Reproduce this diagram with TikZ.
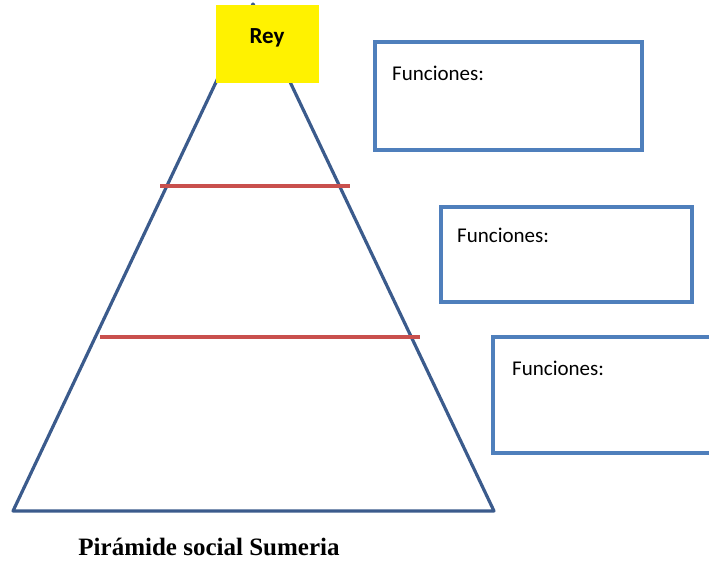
\documentclass[tikz,border=0pt]{standalone}
\usepackage{fontspec}
\setmainfont{Liberation Serif}
\newfontfamily\calib{Carlito}
\usetikzlibrary{calc}
\definecolor{tribl}{HTML}{3B5B8C}
\definecolor{boxbl}{HTML}{4F7FBC}
\definecolor{redl}{HTML}{C9504D}
\tikzset{
  tri/.style={draw=tribl, line width=3.2pt, line join=round},
  divline/.style={draw=redl, line width=3.5pt},
  fbox/.style={draw=boxbl, line width=3.5pt, fill=white, anchor=north west, inner sep=0pt},
  ftext/.style={anchor=west, font=\calib\fontsize{21}{23}\selectfont, inner sep=0pt},
  reybox/.style={fill=yellow, anchor=north west, minimum width=103pt, minimum height=78pt, inner sep=0pt},
}
\begin{document}
\begin{tikzpicture}[x=1pt, y=-1pt]
\useasboundingbox (0,0) rectangle (709,565);
% pyramid
\coordinate (apex) at (253,4);
\coordinate (bl) at (13,511);
\coordinate (br) at (494,511);
\draw[tri] (apex) -- (bl) -- (br) -- cycle;
% dividing lines
\coordinate (r1a) at (160,186);
\coordinate (r1b) at (350,186);
\coordinate (r2a) at (100,337);
\coordinate (r2b) at (420,337);
\draw[divline] (r1a) -- (r1b);
\draw[divline] (r2a) -- (r2b);
% Rey
\node[reybox] (rey) at (216,5) {};
\node[font=\calib\bfseries\fontsize{23}{25}\selectfont, inner sep=0pt] (reyt) at (267,38) {Rey};
% function boxes
\node[fbox, minimum width=267pt, minimum height=108pt] (f1) at (373,40) {};
\node[ftext] (f1t) at ($(f1.north west)+(19,33)$) {Funciones:};
\node[fbox, minimum width=251pt, minimum height=95pt] (f2) at (439,205) {};
\node[ftext] (f2t) at ($(f2.north west)+(18,30)$) {Funciones:};
\coordinate (f3tr) at (712,337);
\coordinate (f3tl) at (493,337);
\coordinate (f3bl) at (493,453);
\coordinate (f3br) at (712,453);
\fill[white] (f3tl) rectangle (f3br);
\draw[draw=boxbl, line width=3.5pt] (f3tr) -- (f3tl) -- (f3bl) -- (f3br);
\node[ftext] (f3t) at ($(f3tl)+(19,31)$) {Funciones:};
% caption
\node[font=\bfseries\fontsize{25}{28}\selectfont, inner sep=0pt] (cap) at (209,547) {Pirámide social Sumeria};
\end{tikzpicture}
\end{document}
